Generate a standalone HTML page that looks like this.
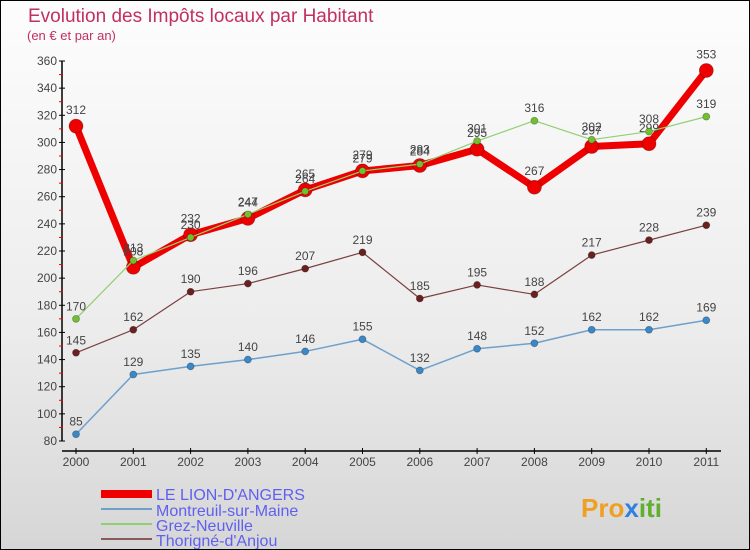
<!DOCTYPE html>
<html><head><meta charset="utf-8"><style>
body{margin:0}
#c{width:750px;height:550px;position:relative;overflow:hidden;box-sizing:border-box;border:1px solid #000;background:linear-gradient(#fdfdfd,#ececec 60%,#d6d6d6);font-family:"Liberation Sans",sans-serif}
</style></head><body>
<div id="c">
<svg width="750" height="550" style="position:absolute;left:0;top:0">
<text x="27" y="21" font-size="19" fill="#c2305e">Evolution des Impôts locaux par Habitant</text>
<text x="26" y="39" font-size="13" fill="#c2305e">(en € et par an)</text>
<g id="axes"></g><g id="series"></g>
<g>
<rect x="100" y="489" width="51" height="8" fill="#e00"/>
<text x="155" y="499" font-size="16" fill="#6060f0">LE LION-D'ANGERS</text>
<rect x="100" y="507" width="51" height="2" fill="#6fa0cc"/>
<text x="155" y="515" font-size="16" fill="#6060f0">Montreuil-sur-Maine</text>
<rect x="100" y="522" width="51" height="2" fill="#90d070"/>
<text x="155" y="530" font-size="16" fill="#6060f0">Grez-Neuville</text>
<rect x="100" y="537" width="51" height="2" fill="#8a5a5a"/>
<text x="155" y="545" font-size="16" fill="#6060f0">Thorigné-d'Anjou</text>
</g>
<text x="580" y="516" font-size="26" font-weight="bold" fill="#f0a020">Pro<tspan fill="#3080e0">x</tspan><tspan fill="#60b030">iti</tspan></text>
</svg>
</div>
<script>
const years=["2000","2001","2002","2003","2004","2005","2006","2007","2008","2009","2010","2011"];
const yTicks=[80,100,120,140,160,180,200,220,240,260,280,300,320,340,360];
const lion=[312,208,232,244,265,279,283,295,267,297,299,353];
const montreuil=[85,129,135,140,146,155,132,148,152,162,162,169];
const grez=[170,213,230,247,264,279,284,301,316,302,308,319];
const thorigne=[145,162,190,196,207,219,185,195,188,217,228,239];
const NS="http://www.w3.org/2000/svg";
const X=i=>75+i*57.3;
const Y=v=>440-(v-80)*(380/280);
function mk(tag,attrs,parent){const e=document.createElementNS(NS,tag);for(const k in attrs)e.setAttribute(k,attrs[k]);parent.appendChild(e);return e;}
const ax=document.getElementById('axes');
let l=mk('line',{x1:61,y1:60,x2:61,y2:440,stroke:'#000','stroke-width':1.5},ax);


l=mk('line',{x1:61,y1:450,x2:720,y2:450,stroke:'#000','stroke-width':1.5},ax);


yTicks.forEach((v,i)=>{
 mk('line',{x1:58,y1:Y(v),x2:64,y2:Y(v),stroke:'#000'},ax);
 if(i<yTicks.length-1) mk('line',{x1:58,y1:Y(v+10),x2:62,y2:Y(v+10),stroke:'#e00'},ax);
 const t=mk('text',{x:56,y:Y(v)+4,'font-size':12,'text-anchor':'end',fill:'#444'},ax);t.textContent=v;
 
 
});
years.forEach((y,i)=>{
 mk('line',{x1:X(i),y1:447,x2:X(i),y2:453,stroke:'#000'},ax);
 const t=mk('text',{x:X(i),y:465,'font-size':12,'text-anchor':'middle',fill:'#444'},ax);t.textContent=y;
 
 
});
const sg=document.getElementById('series');
function draw(name,data,color,w,r,dot){
 const g=mk('g',{},sg);
 
 
 const p=mk('polyline',{points:data.map((v,i)=>X(i)+','+Y(v)).join(' '),fill:'none',stroke:color,'stroke-width':w,'stroke-linejoin':'round'},g);
 
 
 data.forEach((v,i)=>{
  const c=mk('circle',{cx:X(i),cy:Y(v),r:r,fill:dot,stroke:'rgba(0,0,0,0.3)','stroke-width':0.8},g);
  
  
  const t=mk('text',{x:X(i),y:Y(v)-r-5,'font-size':12,'text-anchor':'middle',fill:'#444'},g);t.textContent=v;
  
  
 });
}
draw('montreuil',montreuil,'#6fa0cc',1.5,3.5,'#3a88c8');
draw('thorigne',thorigne,'#7a4040',1.2,3.5,'#6a2020');
draw('lion',lion,'#e00',7,7,'#e00');
draw('grez',grez,'#90d070',1.2,3.5,'#70c030');
</script>
</body></html>
